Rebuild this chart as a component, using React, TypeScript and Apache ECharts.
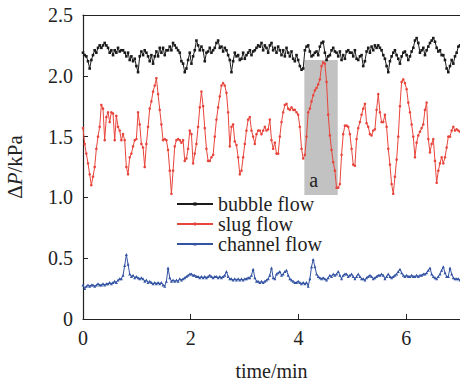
import React, { useEffect, useRef } from "react";
import * as echarts from "echarts";

const TIME_MAX = 7; // min
const seriesNames = ["bubble flow", "slug flow", "channel flow"];
const boxA = { name: "a", t0: 4.11, t1: 4.73, p0: 1.02, p1: 2.13 };

const bubbleFlow = [
  2.19,2.17,2.16,2.12,2.06,2.13,2.17,2.21,2.19,2.23,2.25,2.23,2.25,2.27,2.25,2.23,2.19,2.21,2.17,2.21,
  2.19,2.23,2.20,2.21,2.21,2.19,2.16,2.19,2.13,2.16,2.12,2.14,2.08,2.03,2.16,2.20,2.17,2.21,2.19,2.16,
  2.12,2.17,2.10,2.16,2.20,2.16,2.23,2.19,2.23,2.17,2.21,2.21,2.24,2.21,2.27,2.25,2.23,2.21,2.19,2.12,2.10,
  2.03,2.06,2.13,2.19,2.10,2.16,2.21,2.29,2.25,2.21,2.24,2.21,2.12,2.19,2.20,2.23,2.19,2.21,2.23,2.27,
  2.29,2.23,2.24,2.20,2.23,2.21,2.17,2.13,2.03,2.12,2.19,2.16,2.17,2.13,2.14,2.19,2.14,2.17,2.19,2.21,
  2.17,2.20,2.21,2.23,2.25,2.24,2.27,2.21,2.25,2.23,2.19,2.25,2.27,
  2.21,2.23,2.19,2.24,2.21,2.17,2.21,2.16,2.23,2.19,2.16,2.20,2.14,2.12,2.17,2.13,2.08,2.05,2.06,2.21,
  2.24,2.25,2.20,2.16,2.17,2.19,2.20,2.17,2.24,2.27,2.28,2.19,2.13,2.16,2.17,2.21,2.23,2.20,2.19,2.16,
  2.20,2.13,2.17,2.14,2.20,2.21,2.19,2.19,2.16,2.21,2.14,2.13,2.16,2.17,2.08,2.12,
  2.20,2.23,2.19,2.24,2.21,2.25,2.23,2.25,2.23,2.21,2.17,2.14,2.08,2.03,2.12,2.16,2.19,2.21,2.17,2.14,
  2.10,2.16,2.19,2.20,2.17,2.13,2.16,2.20,2.23,2.29,2.31,2.27,2.19,2.21,2.23,2.17,2.21,2.24,2.27,2.29,
  2.31,2.28,2.23,2.20,2.21,2.17,2.17,2.13,2.06,2.03,2.08,2.13,2.10,2.16,2.19,2.24,2.25,
];

const slugFlow = [
  1.57,1.44,1.36,1.28,1.19,1.10,1.17,1.25,1.40,1.50,1.58,1.76,1.73,1.47,1.66,1.70,1.62,1.70,1.69,1.47,
  1.67,1.58,1.55,1.47,1.52,1.47,1.25,1.19,1.33,1.36,1.42,1.47,1.48,1.70,1.60,1.44,1.41,1.25,1.44,1.58,
  1.73,1.79,1.87,1.92,1.98,1.85,1.72,1.60,1.47,1.48,1.47,1.39,1.22,1.03,1.22,1.42,1.47,1.48,1.47,1.45,1.47,
  1.30,1.32,1.40,1.55,1.52,1.28,1.36,1.44,1.58,1.74,1.87,1.75,1.57,1.40,1.30,1.30,1.33,1.35,1.50,1.64,
  1.74,1.83,1.92,1.94,1.92,1.86,1.70,1.42,1.58,1.60,1.46,1.43,1.33,1.19,1.22,1.33,1.44,1.55,1.64,1.66,
  1.55,1.50,1.44,1.52,1.55,1.55,1.52,1.55,1.58,1.55,1.56,1.64,1.47,
  1.40,
  1.45,1.36,1.36,1.50,1.62,1.70,1.76,1.77,1.73,1.72,1.74,1.72,1.72,1.70,1.68,1.58,1.40,1.32,1.35,1.50,
  1.70,1.73,1.79,1.84,1.88,1.90,1.93,1.97,2.08,2.11,2.10,1.95,1.68,1.51,1.39,1.29,1.22,1.08,1.08,1.11,
  1.35,1.52,1.59,1.59,1.58,1.52,1.40,1.27,1.26,1.48,1.57,1.62,1.68,1.73,1.77,
  1.61,1.58,1.52,1.51,1.55,1.56,1.72,1.85,1.70,1.62,1.62,1.68,1.58,1.40,1.27,1.11,1.03,1.17,1.31,1.50,
  1.75,1.95,1.97,1.94,1.89,1.78,1.70,1.60,1.50,1.33,1.45,1.51,1.54,1.57,1.60,1.72,1.78,1.48,1.37,1.44,
  1.48,1.30,1.12,1.22,1.28,1.33,1.28,1.33,1.41,1.50,1.50,1.55,1.58,1.55,1.56,1.55,1.54,
];

const channelFlow = [
  0.28,0.25,0.27,0.28,0.27,0.28,0.28,0.27,0.28,0.29,0.28,0.28,0.29,0.28,0.29,0.29,0.30,0.29,0.30,0.31,
  0.30,0.32,0.33,0.33,0.36,0.44,0.53,0.45,0.37,0.35,0.36,0.34,0.35,0.34,0.33,0.34,0.33,0.31,0.32,0.30,
  0.31,0.30,0.29,0.30,0.29,0.30,0.29,0.30,0.28,0.27,0.31,0.42,0.34,0.31,0.32,0.31,0.32,0.31,0.33,0.32,
  0.33,0.34,0.35,0.36,0.37,0.37,0.36,0.36,0.35,0.35,0.34,0.35,0.34,0.35,0.34,0.35,0.36,0.35,0.34,0.35,
  0.35,0.34,0.35,0.34,0.35,0.36,0.39,0.35,0.33,0.33,0.32,0.33,0.32,0.33,0.32,0.33,0.32,0.33,0.33,0.34,
  0.34,0.36,0.41,0.34,0.31,0.31,0.30,0.31,0.30,0.31,0.32,0.33,0.36,
  0.42,0.34,0.33,0.37,0.38,0.39,0.36,0.37,0.39,0.40,0.36,0.33,0.32,0.31,0.30,0.30,0.31,0.30,0.29,0.30,
  0.29,0.30,0.27,0.33,0.43,0.49,0.43,0.37,0.35,0.34,0.33,0.34,0.33,0.32,0.34,0.36,0.35,0.37,0.36,0.37,
  0.39,0.36,0.33,0.36,0.37,0.37,0.35,0.36,0.37,0.35,0.33,0.35,0.37,0.35,0.33,0.33,0.32,0.34,0.35,0.36,
  0.35,0.33,0.34,0.35,0.36,0.36,0.37,0.36,0.33,0.35,0.37,0.35,0.34,0.35,0.36,0.37,0.39,0.41,0.38,0.36,
  0.35,0.36,0.35,0.35,0.36,0.35,0.35,0.36,0.35,0.36,0.36,0.37,0.37,0.38,0.40,0.42,0.37,0.35,0.34,0.33,
  0.35,0.37,0.40,0.43,0.38,0.35,0.35,0.42,0.37,0.34,0.33,0.33,0.33,0.32,
];

const yTicks = { min: 0, max: 2.5, interval: 0.5 };
const xTicks = { min: 0, max: TIME_MAX, interval: 2 };

const FONT = "Times New Roman, Liberation Serif, DejaVu Serif, Noto Serif, serif";

function toPairs(values: number[]) {
  const dt = TIME_MAX / (values.length - 1);
  return values.map((v, i) => [i * dt, v]);
}

export default function App() {
  const ref = useRef<HTMLDivElement>(null);
  useEffect(() => {
    if (!ref.current) return;
    const chart = echarts.init(ref.current, null, { renderer: "svg" });
    const colors = ["#1a1a1a", "#e8453c", "#3353a3"];
    const symbols = ["rect", "circle", "triangle"];
    const datasets = [bubbleFlow, slugFlow, channelFlow];
    const axisLine = { show: true, lineStyle: { color: "#222", width: 1.2 } };
    chart.setOption({
      animation: false,
      backgroundColor: "#fff",
      textStyle: { fontFamily: FONT },
      grid: {
        left: 83,
        right: 0,
        top: 15,
        bottom: 66,
        containLabel: false,
        outerBoundsMode: "none",
      },
      legend: {
        orient: "vertical",
        left: 176,
        top: 194,
        itemWidth: 36,
        itemHeight: 4,
        itemGap: 0,
        padding: 0,
        data: seriesNames,
        textStyle: { fontFamily: FONT, fontSize: 20, color: "#222", lineHeight: 19 },
      },
      xAxis: [
        {
          type: "value",
          min: xTicks.min,
          max: xTicks.max,
          interval: xTicks.interval,
          name: "time/min",
          nameLocation: "middle",
          nameGap: 42,
          nameTextStyle: { fontFamily: FONT, fontSize: 20, color: "#222" },
          axisLine,
          axisTick: { show: true, inside: true, length: 5, lineStyle: { color: "#222" } },
          axisLabel: { fontFamily: FONT, fontSize: 20, color: "#222", margin: 9, showMaxLabel: false },
          splitLine: { show: false },
        },
        {
          type: "value",
          position: "top",
          min: xTicks.min,
          max: xTicks.max,
          axisLine,
          axisTick: { show: false },
          axisLabel: { show: false },
          splitLine: { show: false },
        },
      ],
      yAxis: {
        type: "value",
        min: yTicks.min,
        max: yTicks.max,
        interval: yTicks.interval,
        name: "{n|Δ}{i|P}{n|/kPa}",
        nameLocation: "middle",
        nameGap: 58,
        nameRotate: 90,
        nameTextStyle: {
          fontFamily: FONT,
          rich: {
            n: { fontFamily: FONT, fontSize: 21, color: "#222" },
            i: { fontFamily: FONT, fontSize: 21, color: "#222", fontStyle: "italic" },
          },
        },
        axisLine,
        axisTick: { show: true, inside: true, length: 5, lineStyle: { color: "#222" } },
        axisLabel: {
          fontFamily: FONT,
          fontSize: 20,
          color: "#222",
          margin: 10,
          formatter: (v: number) => (v === 0 ? "0" : v.toFixed(1)),
        },
        splitLine: { show: false },
      },
      series: [
        {
          type: "line",
          name: "__box",
          data: [],
          z: 1,
          silent: true,
          markArea: {
            silent: true,
            itemStyle: { color: "#c2c2c2", opacity: 1 },
            label: {
              show: true,
              position: "insideBottomLeft",
              distance: 5,
              formatter: "{b}",
              fontFamily: FONT,
              fontSize: 20,
              color: "#222",
            },
            data: [[{ name: boxA.name, coord: [boxA.t0, boxA.p1] }, { coord: [boxA.t1, boxA.p0] }]],
          },
        },
        ...datasets.map((d, i) => ({
          type: "line",
          name: seriesNames[i],
          data: toPairs(d),
          z: 3 + i,
          symbol: symbols[i],
          symbolSize: i === 2 ? 3 : 2.6,
          showSymbol: true,
          color: colors[i],
          lineStyle: { color: colors[i], width: 1 },
          itemStyle: { color: colors[i] },
        })),
      ],
    });
    return () => chart.dispose();
  }, []);
  return (
    <div
      ref={ref}
      style={{ position: "fixed", left: 0, top: 0, width: 460, height: 385, background: "#fff" }}
    />
  );
}
